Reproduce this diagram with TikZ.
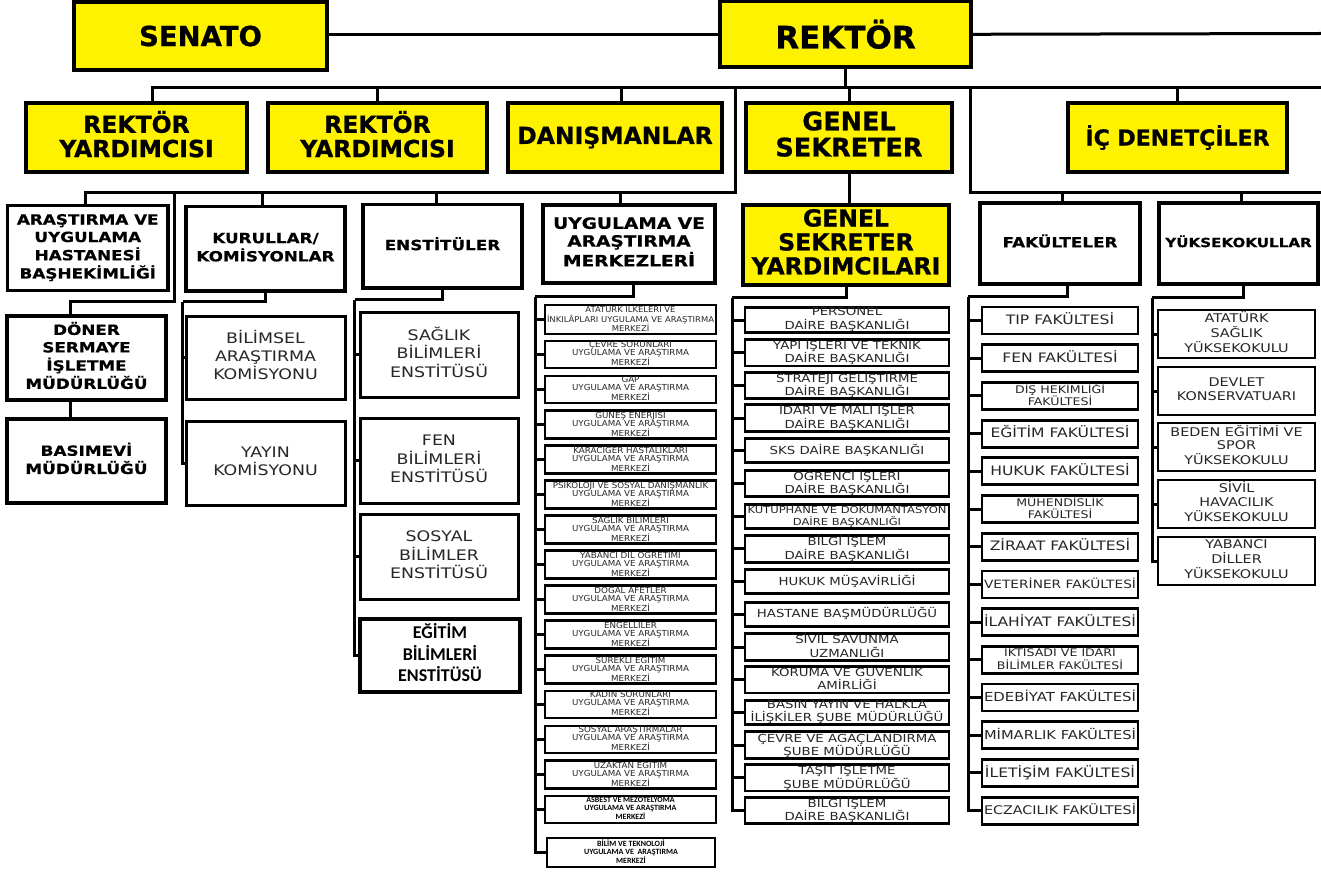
\documentclass[tikz,border=0pt]{standalone}
\usepackage{fontspec}
\usepackage{graphicx}
\setmainfont{DejaVu Sans}
\newfontfamily\yfont{DejaVu Sans}[FakeBold=0.8]
\newfontfamily\hfont{DejaVu Sans}[FakeStretch=1.2, FakeBold=0.6]
\newfontfamily\wfont{DejaVu Sans}[FakeStretch=1.2]
\newfontfamily\mfont{DejaVu Sans}[FakeStretch=1.05]
\newfontfamily\cfont{Carlito}
\definecolor{ylw}{RGB}{255,242,0}
\newsavebox\myfitbox
\newcommand\tl[1]{\begin{tabular}{@{}c@{}}#1\end{tabular}}
\newcommand\fit[2]{\sbox\myfitbox{\tl{#2}}\ifdim\wd\myfitbox>#1\relax\resizebox{#1}{!}{\usebox\myfitbox}\else\usebox\myfitbox\fi}
% name, x1, y1, x2, y2, style, text
\newcommand\bx[7]{\node[#6, minimum width={((#4)-(#2))*1pt}, minimum height={((#5)-(#3))*1pt}] (#1) at ({((#2)+(#4))/2},{((#3)+(#5))/2}) {#7};}
\newcommand\mitem[4][mbox]{\pgfmathsetmacro\ty{306+35*(#3-1)}\bx{#2}{545}{\ty}{716}{\ty+27}{#1}{\fit{167pt}{#4}}}
\newcommand\gitem[3]{\pgfmathsetmacro\ty{308+32.7*(#2-1)}\bx{#1}{745}{\ty}{949}{\ty+24}{gbox}{\fit{199pt}{#3}}}
\newcommand\fitem[4][facbox]{\pgfmathsetmacro\ty{307+37.7*(#3-1)}\bx{#2}{982}{\ty}{1138}{\ty+27}{#1}{\fit{152pt}{#4}}}
\newcommand\yitem[3]{\bx{#1}{1158}{#2}{1315}{#2+48}{kbox}{\fit{152pt}{#3}}}
\tikzset{
  base/.style={draw, inner sep=0pt, outer sep=0pt, align=center},
  ybox/.style={base, line width=3.2pt, fill=ylw},
  hbox/.style={base, line width=3.2pt, fill=white, font=\hfont\bfseries\fontsize{14}{17.5}\selectfont},
  sbox/.style={base, line width=3pt, text=black!85, font=\wfont\fontsize{14.5}{17.5}\selectfont},
  mbox/.style={base, line width=2.6pt, text=black!85, font=\mfont\fontsize{8.3}{7.6}\selectfont},
  mboxb/.style={base, line width=2.8pt, font=\cfont\bfseries\fontsize{8}{8}\selectfont},
  gbox/.style={base, line width=2.8pt, text=black!85, font=\wfont\fontsize{11.1}{10.1}\selectfont},
  facbox/.style={base, line width=2.8pt, text=black!85, font=\wfont\fontsize{13}{12}\selectfont},
  facsm/.style={base, line width=2.8pt, text=black!85, font=\wfont\fontsize{10.5}{9.8}\selectfont},
  kbox/.style={base, line width=2.8pt, text=black!85, font=\wfont\fontsize{12}{13.8}\selectfont},
  conn/.style={line width=3pt},
}
\begin{document}
\begin{tikzpicture}[x=1pt, y=-1pt]
\useasboundingbox (0,0) rectangle (1321,874);
% ---- top
\bx{senato}{74}{2}{327}{70}{ybox, font=\yfont\bfseries\fontsize{27.5}{30}\selectfont}{SENATO}
\bx{rektor}{720}{1.6}{971}{67}{ybox, font=\yfont\bfseries\fontsize{31}{33}\selectfont}{REKTÖR}
% ---- level 2
\tikzset{l2/.style={ybox, font=\yfont\bfseries\fontsize{23.5}{23}\selectfont}}
\bx{ry1}{26}{103}{247}{172}{l2}{\tl{REKTÖR\\YARDIMCISI}}
\bx{ry2}{268}{103}{487}{172}{l2}{\tl{REKTÖR\\YARDIMCISI}}
\bx{dan}{508}{103}{722}{172}{l2}{DANIŞMANLAR}
\bx{gs}{746}{103}{952}{172}{ybox, font=\yfont\bfseries\fontsize{25.5}{24}\selectfont}{\tl{GENEL\\SEKRETER}}
\bx{ic}{1068}{103}{1287}{172}{ybox, font=\yfont\bfseries\fontsize{22}{23}\selectfont}{İÇ DENETÇİLER}
% ---- level 3
\bx{arh}{7.6}{205.5}{168}{290.5}{hbox}{\fit{152pt}{ARAŞTIRMA VE\\UYGULAMA\\HASTANESİ\\BAŞHEKİMLİĞİ}}
\bx{kur}{186}{206.5}{345}{291}{hbox}{\fit{150pt}{KURULLAR/\\KOMİSYONLAR}}
\bx{ens}{363}{204.5}{522}{288}{hbox}{\fit{150pt}{ENSTİTÜLER}}
\bx{uam}{543}{205}{715}{283}{hbox, font=\hfont\bfseries\fontsize{15.5}{17.8}\selectfont}{\fit{162pt}{UYGULAMA VE\\ARAŞTIRMA\\MERKEZLERİ}}
\bx{gsy}{743}{205}{949}{285}{ybox, font=\yfont\bfseries\fontsize{23.5}{21.7}\selectfont}{\fit{198pt}{GENEL\\SEKRETER\\YARDIMCILARI}}
\bx{fak}{980}{203}{1140}{284}{hbox}{\fit{150pt}{FAKÜLTELER}}
\bx{yuk}{1159}{203}{1318}{284}{hbox, font=\hfont\bfseries\fontsize{12.6}{15}\selectfont}{\fit{151pt}{YÜKSEKOKULLAR}}
% ---- level 4 left
\bx{don}{7}{316}{166}{400}{hbox}{\fit{150pt}{DÖNER\\SERMAYE\\İŞLETME\\MÜDÜRLÜĞÜ}}
\bx{bas}{7}{419}{166}{503}{hbox}{\fit{150pt}{BASIMEVİ\\MÜDÜRLÜĞÜ}}
\bx{bil}{186}{316}{345}{399}{sbox}{\fit{150pt}{BİLİMSEL\\ARAŞTIRMA\\KOMİSYONU}}
\bx{yay}{186}{421}{345}{505}{sbox}{\fit{150pt}{YAYIN\\KOMİSYONU}}
\bx{sag}{360}{312}{518}{397}{sbox}{\fit{150pt}{SAĞLIK\\BİLİMLERİ\\ENSTİTÜSÜ}}
\bx{fen}{360}{418}{518}{503}{sbox}{\fit{150pt}{FEN\\BİLİMLERİ\\ENSTİTÜSÜ}}
\bx{sos}{360}{514}{518}{599}{sbox}{\fit{150pt}{SOSYAL\\BİLİMLER\\ENSTİTÜSÜ}}
\bx{egi}{360}{619}{520}{692}{base, line width=3.2pt, font=\cfont\bfseries\fontsize{18}{20}\selectfont}{\fit{150pt}{EĞİTİM\\BİLİMLERİ\\ENSTİTÜSÜ}}
% ---- merkezler
\mitem{m1}{1}{ATATÜRK İLKELERİ VE\\İNKILÂPLARI UYGULAMA VE ARAŞTIRMA\\MERKEZİ}
\mitem{m2}{2}{ÇEVRE SORUNLARI\\UYGULAMA VE ARAŞTIRMA\\MERKEZİ}
\mitem{m3}{3}{GAP\\UYGULAMA VE ARAŞTIRMA\\MERKEZİ}
\mitem{m4}{4}{GÜNEŞ ENERJİSİ\\UYGULAMA VE ARAŞTIRMA\\MERKEZİ}
\mitem{m5}{5}{KARACİĞER HASTALIKLARI\\UYGULAMA VE ARAŞTIRMA\\MERKEZİ}
\mitem{m6}{6}{PSİKOLOJİ VE SOSYAL DANIŞMANLIK\\UYGULAMA VE ARAŞTIRMA\\MERKEZİ}
\mitem{m7}{7}{SAĞLIK BİLİMLERİ\\UYGULAMA VE ARAŞTIRMA\\MERKEZİ}
\mitem{m8}{8}{YABANCI DİL ÖĞRETİMİ\\UYGULAMA VE ARAŞTIRMA\\MERKEZİ}
\mitem{m9}{9}{DOĞAL AFETLER\\UYGULAMA VE ARAŞTIRMA\\MERKEZİ}
\mitem{m10}{10}{ENGELLİLER\\UYGULAMA VE ARAŞTIRMA\\MERKEZİ}
\mitem{m11}{11}{SÜREKLİ EĞİTİM\\UYGULAMA VE ARAŞTIRMA\\MERKEZİ}
\mitem{m12}{12}{KADIN SORUNLARI\\UYGULAMA VE ARAŞTIRMA\\MERKEZİ}
\mitem{m13}{13}{SOSYAL ARAŞTIRMALAR\\UYGULAMA VE ARAŞTIRMA\\MERKEZİ}
\mitem{m14}{14}{UZAKTAN EĞİTİM\\UYGULAMA VE ARAŞTIRMA\\MERKEZİ}
\mitem[mboxb]{m15}{15}{ASBEST VE MEZOTELYOMA\\UYGULAMA VE ARAŞTIRMA\\MERKEZİ}
\bx{m16}{547}{838}{715}{867}{mboxb}{\fit{160pt}{BİLİM VE TEKNOLOJİ\\UYGULAMA VE~~ARAŞTIRMA\\MERKEZİ}}
% ---- genel sekreter items
\gitem{g1}{1}{PERSONEL\\DAİRE BAŞKANLIĞI}
\gitem{g2}{2}{YAPI İŞLERİ VE TEKNİK\\DAİRE BAŞKANLIĞI}
\gitem{g3}{3}{STRATEJİ GELİŞTİRME\\DAİRE BAŞKANLIĞI}
\gitem{g4}{4}{İDARİ VE MALİ İŞLER\\DAİRE BAŞKANLIĞI}
\gitem{g5}{5}{SKS DAİRE BAŞKANLIĞI}
\gitem{g6}{6}{ÖĞRENCİ İŞLERİ\\DAİRE BAŞKANLIĞI}
\gitem{g7}{7}{KÜTÜPHANE VE DÖKÜMANTASYON\\DAİRE BAŞKANLIĞI}
\gitem{g8}{8}{BİLGİ İŞLEM\\DAİRE BAŞKANLIĞI}
\gitem{g9}{9}{HUKUK MÜŞAVİRLİĞİ}
\gitem{g10}{10}{HASTANE BAŞMÜDÜRLÜĞÜ}
\gitem{g11}{11}{SİVİL SAVUNMA\\UZMANLIĞI}
\gitem{g12}{12}{KORUMA VE GÜVENLİK\\AMİRLİĞİ}
\gitem{g13}{13}{BASIN YAYIN VE HALKLA\\İLİŞKİLER ŞUBE MÜDÜRLÜĞÜ}
\gitem{g14}{14}{ÇEVRE VE AĞAÇLANDIRMA\\ŞUBE MÜDÜRLÜĞÜ}
\gitem{g15}{15}{TAŞIT İŞLETME\\ŞUBE MÜDÜRLÜĞÜ}
\gitem{g16}{16}{BİLGİ İŞLEM\\DAİRE BAŞKANLIĞI}
% ---- fakülteler
\fitem{f1}{1}{TIP FAKÜLTESİ}
\fitem{f2}{2}{FEN FAKÜLTESİ}
\fitem[facsm]{f3}{3}{DİŞ HEKİMLİĞİ\\FAKÜLTESİ}
\fitem{f4}{4}{EĞİTİM FAKÜLTESİ}
\fitem{f5}{5}{HUKUK FAKÜLTESİ}
\fitem[facsm]{f6}{6}{MÜHENDİSLİK\\FAKÜLTESİ}
\fitem{f7}{7}{ZİRAAT FAKÜLTESİ}
\fitem{f8}{8}{VETERİNER FAKÜLTESİ}
\fitem{f9}{9}{İLAHİYAT FAKÜLTESİ}
\fitem[facsm]{f10}{10}{İKTİSADİ VE İDARİ\\BİLİMLER FAKÜLTESİ}
\fitem{f11}{11}{EDEBİYAT FAKÜLTESİ}
\fitem{f12}{12}{MİMARLIK FAKÜLTESİ}
\fitem{f13}{13}{İLETİŞİM FAKÜLTESİ}
\fitem{f14}{14}{ECZACILIK FAKÜLTESİ}
% ---- yüksekokullar
\yitem{y1}{310}{ATATÜRK\\SAĞLIK\\YÜKSEKOKULU}
\yitem{y2}{367}{DEVLET\\KONSERVATUARI}
\yitem{y3}{423}{BEDEN EĞİTİMİ VE\\SPOR\\YÜKSEKOKULU}
\yitem{y4}{480}{SİVİL\\HAVACILIK\\YÜKSEKOKULU}
\yitem{y5}{537}{YABANCI\\DİLLER\\YÜKSEKOKULU}
% ---- connectors
\coordinate (redge) at (1321,33.5);
\coordinate (b1s) at (152,88);
\coordinate (j1) at (735,88);
\coordinate (j1b) at (735,193);
\coordinate (j2) at (970,88);
\coordinate (j2b) at (970,193);
\coordinate (d1) at (174,193);
\coordinate (d2) at (70.6,302);
\coordinate (k1) at (182.5,302);
\coordinate (e1) at (354.7,300);
\coordinate (mv) at (535,297);
\coordinate (gv) at (732,298);
\coordinate (fv) at (968,297);
\coordinate (yv) at (1152,298);
\coordinate (pr1) at (262,193);
\coordinate (pr2) at (436,193);
\coordinate (pr3) at (620,193);
\coordinate (pf) at (1062,193);
\coordinate (py) at (1241,193);
\coordinate (pa) at (85,193);
\coordinate (pd) at (621,88);
\coordinate (pk) at (633,283);
\coordinate (pfak) at (1067,284);
\coordinate (pyuk) at (1243,284);
\begin{scope}[conn]
\draw (senato.east |- rektor.west) -- (rektor.west);
\draw (rektor.east) -- (redge);
\draw (rektor.south) -- (rektor.south |- b1s);
\draw (b1s |- ry1.north) -- (b1s) -- (redge |- b1s);
\draw (ry2.north) -- (ry2.north |- b1s);
\draw (pd |- dan.north) -- (pd);
\draw (gs.north) -- (gs.north |- b1s);
\draw (ic.north) -- (ic.north |- b1s);
% left lower bus
\draw (j1) -- (j1b) -- (pa) -- (pa |- arh.north);
\draw (pr1) -- (pr1 |- kur.north);
\draw (pr2) -- (pr2 |- ens.north);
\draw (pr3) -- (pr3 |- uam.north);
\draw (d1) |- (d2) -- (d2 |- don.north);
\draw (d2 |- don.south) -- (d2 |- bas.north);
% right lower bus
\draw (j2) -- (j2b) -- (redge |- j2b);
\draw (pf) -- (pf |- fak.north);
\draw (py) -- (py |- yuk.north);
% genel sekreter
\draw (gs.south) -- (gs.south |- gsy.north);
% children
\draw (kur.south) |- (k1);
\draw (k1) |- (bil.west);
\draw (k1) |- (yay.west);
\draw (ens.south) |- (e1);
\foreach \n in {sag,fen,sos,egi} \draw (e1) |- (\n.west);
\draw (pk) |- (mv);
\foreach \n in {1,...,16} \draw (mv) |- (m\n.west);
\draw (gsy.south) |- (gv);
\foreach \n in {1,...,16} \draw (gv) |- (g\n.west);
\draw (pfak) |- (fv);
\foreach \n in {1,...,14} \draw (fv) |- (f\n.west);
\draw (pyuk) |- (yv);
\foreach \n in {1,...,5} \draw (yv) |- (y\n.west);
\end{scope}
\end{tikzpicture}
\end{document}
